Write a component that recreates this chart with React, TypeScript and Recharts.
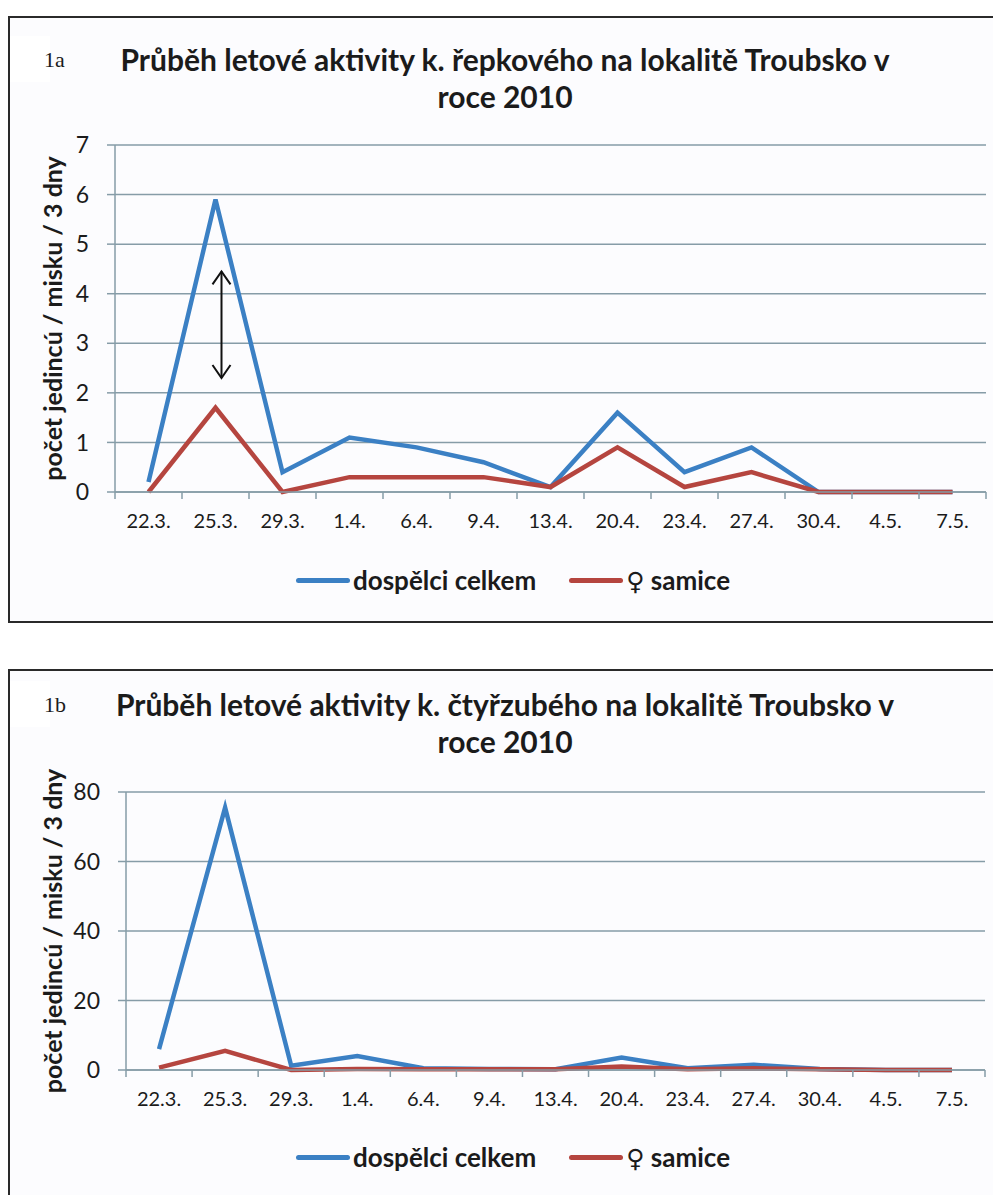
import { CartesianGrid, Line, LineChart, ReferenceLine, XAxis, YAxis } from "recharts";

const dates = ["22.3.", "25.3.", "29.3.", "1.4.", "6.4.", "9.4.", "13.4.", "20.4.", "23.4.", "27.4.", "30.4.", "4.5.", "7.5."];

// 1a – k. řepkový
const repkovyTotal = [0.2, 5.9, 0.4, 1.1, 0.9, 0.6, 0.1, 1.6, 0.4, 0.9, 0, 0, 0];
const repkovyFemale = [0, 1.7, 0, 0.3, 0.3, 0.3, 0.1, 0.9, 0.1, 0.4, 0, 0, 0];
const repkovyTicks = [0, 1, 2, 3, 4, 5, 6, 7];
const arrowSpan = [4.45, 2.3];

// 1b – k. čtyřzubý
const ctyrzubyTotal = [6, 75.5, 1.2, 4, 0.5, 0.3, 0.2, 3.6, 0.5, 1.5, 0.3, 0, 0];
const ctyrzubyFemale = [0.7, 5.5, 0, 0.3, 0.2, 0.2, 0.2, 1, 0.2, 0.5, 0.2, 0, 0];
const ctyrzubyTicks = [0, 20, 40, 60, 80];

const seriesNames = ["dospělci celkem", "♀ samice"];
const yLabel = "počet jedincú / misku / 3 dny";

const GRID = "#869ca7";
const BLUE = "#3b80c4";
const RED = "#b5453f";
const INK = "#1b1b1b";
const FONT = "Lato, 'Open Sans', sans-serif";
const TICK_MARGIN = 22;

function rows(total: number[], female: number[]) {
  return dates.map((d, i) => ({ date: d, total: total[i], female: female[i] }));
}

function BoundaryTick(props: any) {
  const { x, y, payload, index, band } = props;
  const half = band / 2;
  const axisY = y - TICK_MARGIN;
  return (
    <g>
      <line x1={x - half} x2={x - half} y1={axisY} y2={axisY + 7} stroke={GRID} strokeWidth={1.5} />
      {index === dates.length - 1 && (
        <line x1={x + half} x2={x + half} y1={axisY} y2={axisY + 7} stroke={GRID} strokeWidth={1.5} />
      )}
      <text x={x} y={y} dy="0.71em" textAnchor="middle" fill={INK} fontSize={20} fontFamily={FONT}>
        {payload.value}
      </text>
    </g>
  );
}

function ArrowShape(props: any) {
  const { x1, y1, x2, y2 } = props;
  if (x1 == null || y1 == null) return null;
  const dx = 6;
  const top = Math.min(y1, y2);
  const bot = Math.max(y1, y2);
  const x = x1 + dx;
  return (
    <g stroke="#111" strokeWidth={2} fill="none">
      <line x1={x} x2={x} y1={top} y2={bot} />
      <polyline points={`${x - 9},${top + 13} ${x},${top} ${x + 9},${top + 13}`} />
      <polyline points={`${x - 9},${bot - 13} ${x},${bot} ${x + 9},${bot - 13}`} />
    </g>
  );
}

function ChartBlock({
  top,
  height,
  margin,
  labelX,
  data,
  yMax,
  ticks,
  arrow,
}: {
  top: number;
  height: number;
  margin: { top: number; right: number; bottom: number; left: number };
  labelX: number;
  data: { date: string; total: number; female: number }[];
  yMax: number;
  ticks: number[];
  arrow?: number[];
}) {
  const plotW = 993 - margin.left - 60 - margin.right;
  const band = plotW / dates.length;
  return (
    <div style={{ position: "absolute", left: 0, top }}>
      <LineChart width={993} height={height} data={data} margin={margin}>
        <CartesianGrid vertical={false} stroke={GRID} strokeWidth={1.5} />
        <XAxis
          dataKey="date"
          height={40}
          interval={0}
          padding={{ left: band / 2, right: band / 2 }}
          tickLine={false}
          tickSize={0}
          tickMargin={TICK_MARGIN}
          axisLine={{ stroke: GRID, strokeWidth: 1.5 }}
          tick={(p: any) => <BoundaryTick {...p} band={band} />}
        />
        <YAxis
          width={60}
          domain={[0, yMax]}
          ticks={ticks}
          interval={0}
          tickSize={8}
          tickMargin={18}
          tickLine={{ stroke: GRID, strokeWidth: 1.5 }}
          axisLine={{ stroke: GRID, strokeWidth: 1.5 }}
          tick={{ fill: INK, fontSize: 23, fontFamily: FONT }}
          label={{
            content: (p: any) => {
              const vb = p.viewBox || {};
              const cy = vb.y + vb.height / 2;
              return (
                <text
                  x={labelX}
                  y={cy}
                  transform={`rotate(-90, ${labelX}, ${cy})`}
                  textAnchor="middle"
                  dominantBaseline="central"
                  fill={INK}
                  fontSize={25}
                  fontWeight={700}
                  fontFamily={FONT}
                >
                  {yLabel}
                </text>
              );
            },
          }}
        />
        <Line
          type="linear"
          dataKey="total"
          name={seriesNames[0]}
          stroke={BLUE}
          strokeWidth={4.5}
          dot={false}
          isAnimationActive={false}
        />
        <Line
          type="linear"
          dataKey="female"
          name={seriesNames[1]}
          stroke={RED}
          strokeWidth={4.5}
          dot={false}
          isAnimationActive={false}
        />
        {arrow && (
          <ReferenceLine
            segment={[
              { x: dates[1], y: arrow[0] },
              { x: dates[1], y: arrow[1] },
            ]}
            ifOverflow="visible"
            shape={(p: any) => <ArrowShape {...p} />}
          />
        )}
      </LineChart>
    </div>
  );
}

function LegendText({ text }: { text: string }) {
  if (text.startsWith("♀")) {
    return (
      <span>
        <span style={{ fontFamily: "'DejaVu Sans', sans-serif", fontWeight: 400, fontSize: 25 }}>♀</span>
        {text.slice(1)}
      </span>
    );
  }
  return <span>{text}</span>;
}

function Legend({ top }: { top: number }) {
  const item = (color: string, text: string, gapLeft: number) => (
    <div style={{ display: "flex", alignItems: "center", marginLeft: gapLeft }}>
      <div style={{ width: 54, height: 5, background: color, borderRadius: 3 }} />
      <span style={{ marginLeft: 3, fontFamily: FONT, fontWeight: 700, fontSize: 26, color: INK, whiteSpace: "pre" }}>
        <LegendText text={text} />
      </span>
    </div>
  );
  return (
    <div style={{ position: "absolute", left: 296, top: top - 18, height: 36, display: "flex", alignItems: "center" }}>
      {item(BLUE, seriesNames[0], 0)}
      {item(RED, seriesNames[1], 33)}
    </div>
  );
}

function Title({ top, tag, line1 }: { top: number; tag: string; line1: string }) {
  return (
    <>
      <div
        style={{
          position: "absolute",
          left: 10,
          top: top - 24,
          width: 40,
          height: 46,
          background: "#fff",
        }}
      />
      <div
        style={{
          position: "absolute",
          left: 44,
          top: top - 13,
          fontFamily: "'Liberation Serif', serif",
          fontSize: 22,
          lineHeight: "26px",
          color: INK,
        }}
      >
        {tag}
      </div>
      <div
        style={{
          position: "absolute",
          left: 55,
          width: 900,
          top: top - 19,
          textAlign: "center",
          fontFamily: FONT,
          fontWeight: 700,
          fontSize: 30,
          lineHeight: "37px",
          color: INK,
        }}
      >
        {line1}
        <br />
        roce 2010
      </div>
    </>
  );
}

export default function App() {
  const frame = {
    position: "absolute" as const,
    left: 8,
    width: 1000,
    border: "2px solid #2a2a2a",
    borderRight: "none",
    background: "#fcfcfe",
    boxSizing: "border-box" as const,
  };
  return (
    <div style={{ position: "absolute", left: 0, top: 0, width: 993, height: 1195, overflow: "hidden", background: "#fff" }}>
      <div style={{ ...frame, top: 16, height: 607 }} />
      <div style={{ ...frame, top: 669, height: 560 }} />

      <Title top={60} tag="1a" line1="Průběh letové aktivity k. řepkového na lokalitě Troubsko v" />
      <ChartBlock
        top={0}
        height={640}
        margin={{ top: 145, right: 7, bottom: 108, left: 55 }}
        labelX={52}
        data={rows(repkovyTotal, repkovyFemale)}
        yMax={7}
        ticks={repkovyTicks}
        arrow={arrowSpan}
      />
      <Legend top={580} />

      <Title top={705} tag="1b" line1="Průběh letové aktivity k. čtyřzubého na lokalitě Troubsko v" />
      <ChartBlock
        top={640}
        height={555}
        margin={{ top: 152, right: 8, bottom: 85, left: 66 }}
        labelX={52}
        data={rows(ctyrzubyTotal, ctyrzubyFemale)}
        yMax={80}
        ticks={ctyrzubyTicks}
      />
      <Legend top={1157} />
    </div>
  );
}
